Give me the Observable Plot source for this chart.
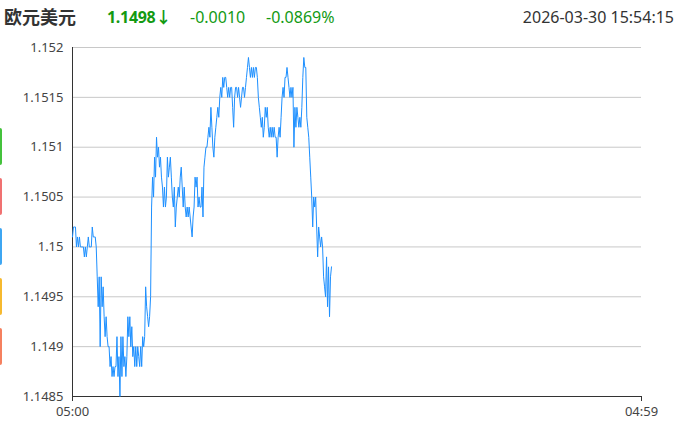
<!DOCTYPE html>
<html>
<head>
<meta charset="utf-8">
<script src="https://cdn.jsdelivr.net/npm/d3@7"></script>
<script src="https://cdn.jsdelivr.net/npm/@observablehq/plot@0.6"></script>
<style>
  html, body { margin: 0; padding: 0; background: #fff; }
  body { width: 698px; height: 430px; position: relative; overflow: hidden;
         font-family: "Noto Sans CJK SC", "Noto Sans", sans-serif; }
  #chart { position: absolute; left: 0; top: 0; }
  .hd { position: absolute; top: 6px; font-size: 16px; line-height: 22px; white-space: nowrap; font-family: "Noto Sans", "Noto Sans CJK SC", sans-serif; }
  .tab { position: absolute; left: -2px; width: 4px; height: 37px; border-radius: 2px; }
</style>
</head>
<body>
<div id="chart"></div>
<div class="hd" id="name" style="left:4px; top:5px; font-weight:bold; color:#333; font-size:18px; font-family:'Noto Sans CJK SC', sans-serif;"></div>
<div class="hd" id="price" style="left:107px; font-weight:bold; color:#139a13; letter-spacing:-0.3px;"></div>
<div class="hd" id="chg" style="left:190px; color:#139a13;"></div>
<div class="hd" id="pct" style="left:266px; color:#139a13;"></div>
<div class="hd" id="stamp" style="right:24px; color:#333;"></div>
<div class="tab" style="top:128px; background:#44c23c;"></div>
<div class="tab" style="top:178px; background:#f07171;"></div>
<div class="tab" style="top:228px; background:#3ea6f2;"></div>
<div class="tab" style="top:278px; background:#f6b92f;"></div>
<div class="tab" style="top:328px; background:#f5805f;"></div>
<script>
const title = "欧元美元";
const lastPrice = "1.1498↓";
const change = "-0.0010";
const changePct = "-0.0869%";
const timestamp = "2026-03-30 15:54:15";

const startTime = "2026-03-30T05:00:00Z";
const endTime = "2026-03-31T04:59:00Z";
const stepMinutes = 2.5;
const yTicks = [1.1485, 1.149, 1.1495, 1.15, 1.1505, 1.151, 1.1515, 1.152];
const xTickLabels = ["05:00", "04:59"];

const values = [
  1.1501,1.1502,1.1502,1.1502,1.15,1.1501,1.15,1.1501,1.15,1.15,
  1.15,1.15,1.1499,1.15,1.1499,1.15,1.1501,1.15,1.15,1.15,
  1.1502,1.1501,1.1501,1.1501,1.15,1.1497,1.1494,1.1497,1.149,1.1497,
  1.1494,1.1496,1.1493,1.1491,1.1493,1.1491,1.149,1.149,1.1488,1.1489,
  1.1487,1.1488,1.1487,1.1488,1.1488,1.1491,1.1487,1.1489,1.1485,1.1491,1.1487,
  1.1491,1.1488,1.1489,1.1487,1.1489,1.1493,1.1491,1.1493,1.149,1.1492,
  1.1489,1.149,1.1488,1.149,1.1488,1.149,1.1489,1.1488,1.149,1.1488,
  1.1491,1.149,1.1491,1.1496,1.1494,1.1493,1.1492,1.1493,1.1495,1.1504,
  1.1507,1.1505,1.1509,1.1507,1.1511,1.1509,1.151,1.1508,1.1509,1.1507,
  1.1506,1.1504,1.1506,1.1504,1.1505,1.1509,1.1507,1.1508,1.1509,1.1507,
  1.1505,1.1504,1.1506,1.1502,1.1504,1.1505,1.1506,1.1505,1.1507,1.1508,
  1.1506,1.1504,1.1506,1.1504,1.1503,1.1504,1.1503,1.1504,1.1503,1.1502,
  1.1501,1.1503,1.1504,1.1507,1.1506,1.1507,1.1504,1.1505,1.1504,1.1504,1.1506,
  1.1503,1.1508,1.1509,1.151,1.151,1.1511,1.1512,1.1511,1.1514,1.1512,
  1.151,1.1509,1.1511,1.1512,1.1513,1.1514,1.1513,1.1515,1.1516,1.1515,
  1.1517,1.1516,1.1517,1.1517,1.1516,1.1515,1.1516,1.1515,1.1516,1.1516,
  1.1514,1.1512,1.1515,1.1516,1.1516,1.1515,1.1516,1.1515,1.1514,1.1515,
  1.1516,1.1516,1.1515,1.1516,1.1517,1.1518,1.1519,1.1518,1.1517,1.1518,
  1.1517,1.1518,1.1517,1.1518,1.1518,1.1517,1.1515,1.1514,1.1513,1.1512,
  1.1513,1.1511,1.1512,1.1514,1.1513,1.1514,1.1512,1.1511,1.1512,1.1511,
  1.1512,1.1511,1.1512,1.1511,1.1511,1.1509,1.1511,1.1512,1.1511,1.1513,
  1.1515,1.1516,1.1515,1.1517,1.1517,1.1518,1.1517,1.1516,1.1515,1.1516,1.1515,
  1.1516,1.151,1.1514,1.1512,1.1514,1.1513,1.1512,1.1513,1.1512,1.1514,
  1.1517,1.1519,1.1518,1.1518,1.1513,1.1512,1.1511,1.1509,1.1507,1.1505,
  1.1502,1.1505,1.1504,1.1505,1.1502,1.1499,1.1502,1.1501,1.15,1.1501,
  1.15,1.1497,1.1496,1.1495,1.1499,1.1494,1.1498,1.1493,1.1497,1.1498
];

document.getElementById("name").textContent = title;
document.getElementById("price").textContent = lastPrice;
document.getElementById("chg").textContent = change;
document.getElementById("pct").textContent = changePct;
document.getElementById("stamp").textContent = timestamp;

const t0 = new Date(startTime);
const t1 = new Date(endTime);
const data = values.map((v, i) => ({ t: new Date(t0.getTime() + i * stepMinutes * 60000), v }));
const xTicks = [t0, t1];
const fmtY = d => String(+d.toFixed(4));

const chart = Plot.plot({
  width: 698,
  height: 430,
  marginLeft: 72,
  marginRight: 57,
  marginTop: 47,
  marginBottom: 34,
  style: { fontFamily: '"Noto Sans", "Noto Sans CJK SC", sans-serif', fontSize: "13px", background: "transparent", overflow: "visible" },
  x: { type: "utc", domain: [t0, t1], label: null },
  y: { domain: [yTicks[0], yTicks[yTicks.length - 1]], label: null },
  marks: [
    Plot.gridY(yTicks, { stroke: "#c8c8c8", strokeOpacity: 1, strokeWidth: 1 }),
    Plot.axisY(yTicks, { tickSize: 0, tickPadding: 9, tickFormat: fmtY, fill: "#444", fontSize: 13, label: null }),
    Plot.axisX(xTicks, { tickSize: 5, tickPadding: 5, tickFormat: (d, i) => xTickLabels[i], stroke: "#333", fill: "#444", fontSize: 13, label: null }),
    Plot.ruleX([t0], { stroke: "#333", strokeWidth: 1 }),
    Plot.ruleY([yTicks[0]], { stroke: "#333", strokeWidth: 1 }),
    Plot.line(data, { x: "t", y: "v", stroke: "#1e90ff", strokeWidth: 1 })
  ]
});
document.getElementById("chart").appendChild(chart);
</script>
</body>
</html>
